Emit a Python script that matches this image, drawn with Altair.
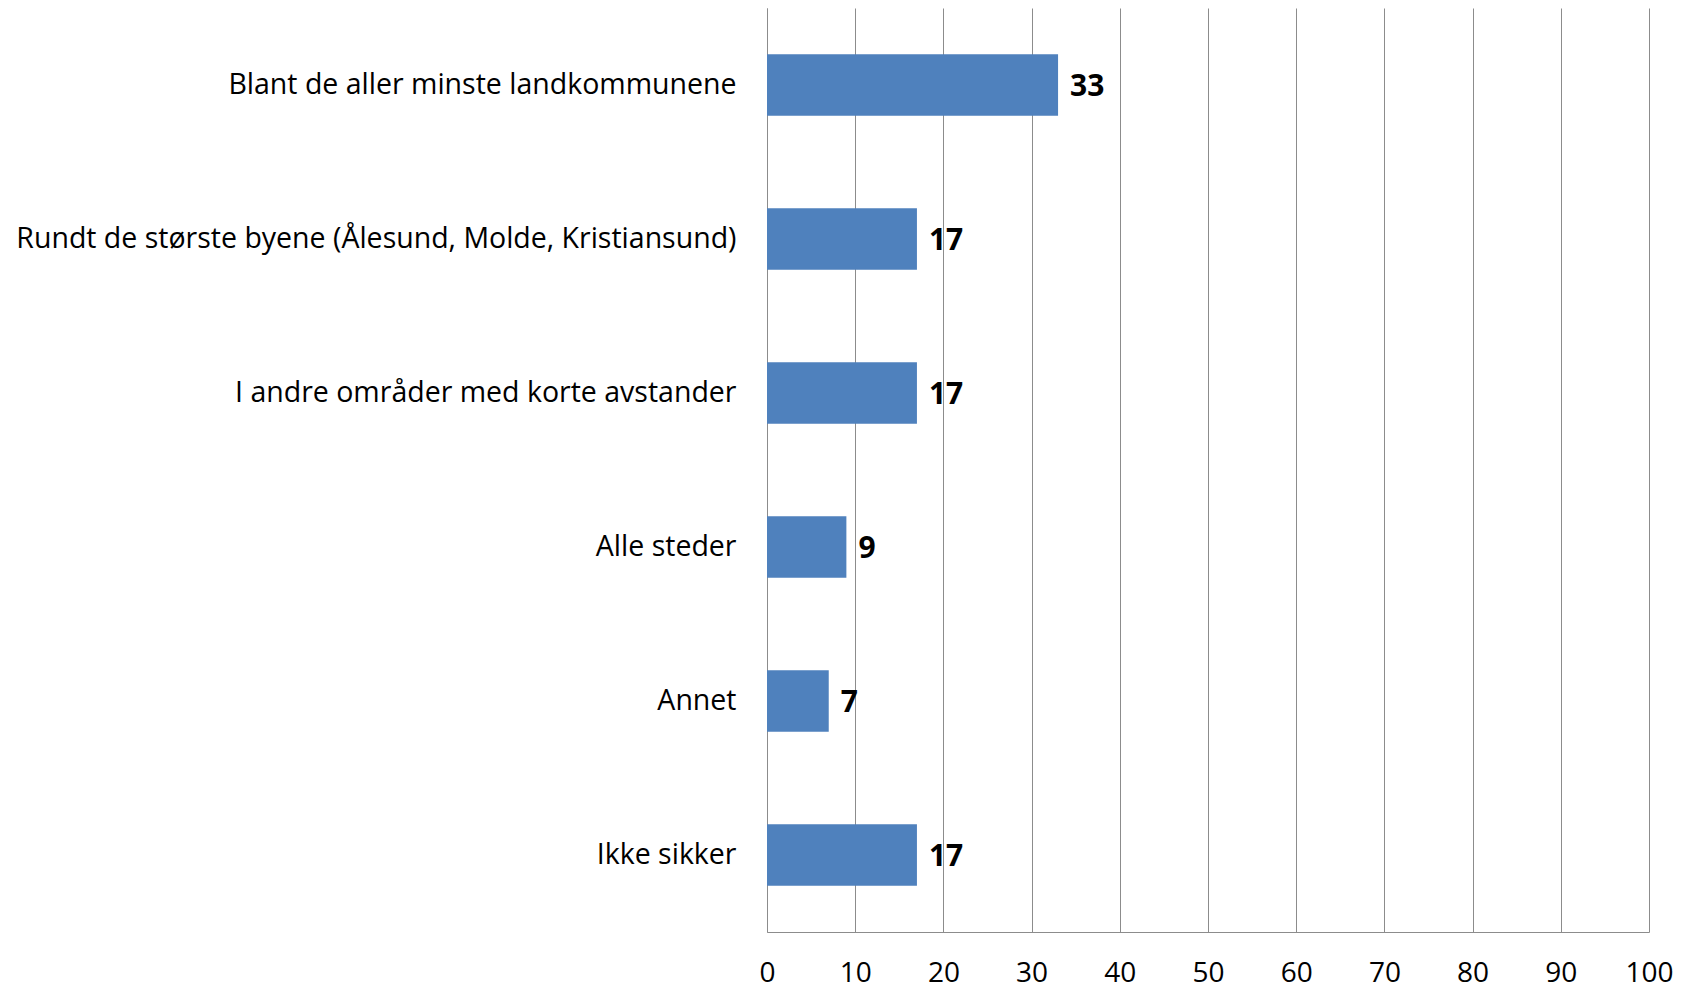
import altair as alt
import pandas as pd

categories = [
    "Blant de aller minste landkommunene",
    "Rundt de største byene (Ålesund, Molde, Kristiansund)",
    "I andre områder med korte avstander",
    "Alle steder",
    "Annet",
    "Ikke sikker",
]
values = [33, 17, 17, 9, 7, 17]
x_ticks = [0, 10, 20, 30, 40, 50, 60, 70, 80, 90, 100]

df = pd.DataFrame({"cat": categories, "val": values})
FONT = "Open Sans"

base = alt.Chart(df)

bars = base.mark_bar(color="#4F81BD").encode(
    x=alt.X(
        "val:Q",
        scale=alt.Scale(domain=[0, 100], nice=False),
        axis=alt.Axis(
            values=x_ticks,
            title=None,
            ticks=False,
            grid=True,
            gridColor="#8C8C8C",
            gridWidth=1,
            domainColor="#8C8C8C",
            labelFont=FONT,
            labelFontSize=28,
            labelColor="#000000",
            labelPadding=27,
            labelFlush=False,
        ),
    ),
    y=alt.Y(
        "cat:N",
        sort=categories,
        scale=alt.Scale(paddingInner=0.6, paddingOuter=0.3),
        axis=alt.Axis(
            title=None,
            ticks=False,
            grid=False,
            domain=True,
            domainColor="#8C8C8C",
            labelFont=FONT,
            labelFontSize=28.5,
            labelColor="#000000",
            labelPadding=31,
            labelLimit=800,
            minExtent=759,
            maxExtent=759,
        ),
    ),
)

texts = base.mark_text(
    align="left", baseline="middle", dx=12, dy=2, font=FONT, fontSize=30,
    fontWeight="bold", color="#000000",
).encode(
    x=alt.X("val:Q"),
    y=alt.Y("cat:N", sort=categories),
    text=alt.Text("val:Q"),
)

chart = (
    alt.layer(bars, texts)
    .properties(
        width=882,
        height=924,
        padding={"left": 0, "top": 0, "right": 0, "bottom": 0},
        background="#ffffff",
    )
    .configure_view(strokeWidth=0, strokeOpacity=0)
)

chart.save("out.html", embed_options={"renderer": "svg", "actions": False})
